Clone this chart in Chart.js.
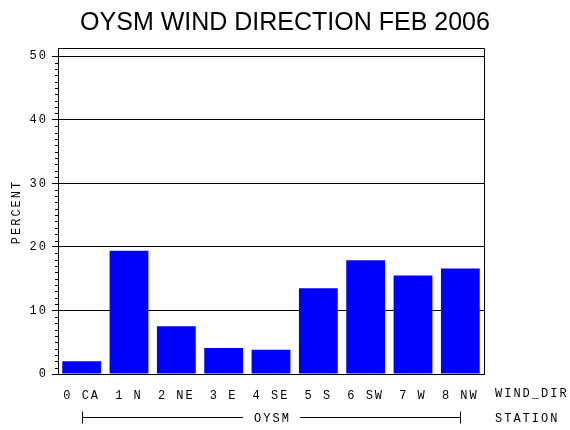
<!DOCTYPE html>
<html>
<head>
<meta charset="utf-8">
<script src="https://cdn.jsdelivr.net/npm/chart.js@4/dist/chart.umd.min.js"></script>
<style>
  html, body { margin: 0; padding: 0; background: #fff; }
  #wrap { width: 570px; height: 430px; }
</style>
</head>
<body>
<div id="wrap"><canvas id="windChart" width="570" height="430"></canvas></div>
<script>
// data
const directions = ['0 CA', '1 N', '2 NE', '3 E', '4 SE', '5 S', '6 SW', '7 W', '8 NW'];
const percent = [2.0, 19.4, 7.5, 4.1, 3.8, 13.5, 17.9, 15.5, 16.6];
const yTicks = [0, 10, 20, 30, 40, 50];
const station = 'OYSM';
const chartTitle = 'OYSM WIND DIRECTION FEB 2006';

const monoFont = '"Liberation Mono", "DejaVu Sans Mono", monospace';

// extra bits the library doesn't draw: minor ticks, frame, titles, station row
const decorations = {
    id: 'decorations',
    beforeInit(chart) {
        chart.ctx.letterSpacing = '2px';
    },
    beforeDraw(chart) {
        chart.ctx.letterSpacing = '2px';
    },
    afterDraw(chart) {
        const ctx = chart.ctx;
        const area = chart.chartArea;
        const x = chart.scales.x;
        const y = chart.scales.y;
        ctx.save();
        ctx.strokeStyle = '#000';
        ctx.fillStyle = '#000';
        ctx.lineWidth = 1;

        // top and right frame
        ctx.beginPath();
        ctx.moveTo(area.left, area.top + 0.5);
        ctx.lineTo(area.right + 0.5, area.top + 0.5);
        ctx.lineTo(area.right + 0.5, area.bottom);
        ctx.stroke();

        // minor ticks every 1 percent
        ctx.beginPath();
        for (let v = 1; v <= 50; v++) {
            if (v % 10 === 0) continue;
            const py = Math.round(y.getPixelForValue(v)) + 0.5;
            ctx.moveTo(area.left - 3, py);
            ctx.lineTo(area.left, py);
        }
        ctx.stroke();

        ctx.font = '12px ' + monoFont;
        ctx.letterSpacing = '2px';
        ctx.textBaseline = 'middle';

        // axis names on the right
        ctx.textAlign = 'left';
        ctx.fillText('WIND_DIR', 495, 394);
        ctx.fillText('STATION', 495, 419);

        // station bracket
        const x0 = Math.round(x.getPixelForValue(0)) + 0.5;
        const x1 = Math.round(x.getPixelForValue(directions.length - 1)) + 0.5;
        const mid = (x0 + x1) / 2;
        const ly = 417.5;
        ctx.textAlign = 'center';
        ctx.fillText(station, mid + 1, ly + 1);
        const half = ctx.measureText(station).width / 2 + 10;
        ctx.beginPath();
        ctx.moveTo(x0, ly); ctx.lineTo(mid - half, ly);
        ctx.moveTo(mid + half, ly); ctx.lineTo(x1, ly);
        ctx.moveTo(x0, ly - 6); ctx.lineTo(x0, ly + 6);
        ctx.moveTo(x1, ly - 6); ctx.lineTo(x1, ly + 6);
        ctx.stroke();

        // y axis name
        ctx.save();
        ctx.translate(17, 212);
        ctx.rotate(-Math.PI / 2);
        ctx.fillText('PERCENT', 0, 0);
        ctx.restore();

        // big title
        ctx.letterSpacing = '0px';
        ctx.font = '25px "Liberation Sans", Arial, sans-serif';
        ctx.fillText(chartTitle, 285, 23);
        ctx.restore();
    }
};

const ctx = document.getElementById('windChart').getContext('2d');
const windChart = new Chart(ctx, {
    type: 'bar',
    data: {
        labels: directions,
        datasets: [{
            data: percent,
            backgroundColor: '#0000ff',
            borderWidth: 0,
            barPercentage: 0.82,
            categoryPercentage: 1.0
        }]
    },
    options: {
        responsive: false,
        animation: false,
        devicePixelRatio: 1,
        layout: {
            padding: { top: 48, right: 86, left: 0, bottom: 0 }
        },
        plugins: {
            legend: { display: false },
            title: { display: false },
            tooltip: { enabled: false }
        },
        scales: {
            x: {
                afterFit(scale) { scale.height = 56; },
                grid: { display: false },
                border: { color: '#000', width: 1 },
                ticks: {
                    color: '#000',
                    padding: 7,
                    maxRotation: 0,
                    autoSkip: false,
                    font: { family: monoFont, size: 12 }
                }
            },
            y: {
                min: 0,
                max: 51.3,
                afterFit(scale) { scale.width = 58; },
                afterBuildTicks(scale) {
                    scale.ticks = yTicks.map(v => ({ value: v }));
                },
                grid: {
                    color: '#000',
                    lineWidth: 1,
                    tickLength: 6,
                    drawTicks: true
                },
                border: { color: '#000', width: 1 },
                ticks: {
                    color: '#000',
                    padding: 4,
                    includeBounds: false,
                    font: { family: monoFont, size: 12 }
                }
            }
        }
    },
    plugins: [decorations]
});
</script>
</body>
</html>
